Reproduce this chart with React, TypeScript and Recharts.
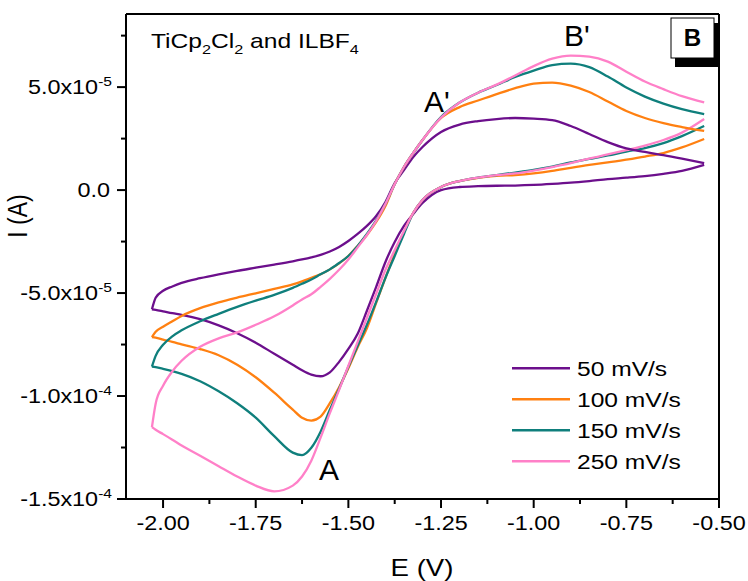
import React from 'react';
import { LineChart, Line, XAxis, YAxis, ReferenceLine, Legend, Customized } from 'recharts';

// potential grid (V), shared by every branch
const potential = [
  -2.03, -2.02, -2.0, -1.975, -1.95, -1.9, -1.85, -1.8, -1.75, -1.7,
  -1.65, -1.625, -1.6, -1.575, -1.55, -1.525, -1.5, -1.475, -1.45, -1.425,
  -1.4, -1.375, -1.35, -1.325, -1.3, -1.25, -1.2, -1.15, -1.1, -1.05,
  -1.0, -0.95, -0.9, -0.85, -0.8, -0.75, -0.7, -0.65, -0.6, -0.54,
];

// currents in units of 1e-5 A; cathodic = forward (lower) branch, anodic = return (upper) branch
const cathodic50 = [
  -5.79, -5.82, -5.89, -5.98, -6.06, -6.27, -6.57, -6.95, -7.41, -7.95,
  -8.48, -8.75, -8.96, -9.04, -8.85, -8.34, -7.71, -6.98, -5.86, -4.7,
  -3.49, -2.52, -1.74, -1.16, -0.63, 0.0, 0.15, 0.19, 0.21, 0.22,
  0.25, 0.3, 0.36, 0.44, 0.53, 0.6, 0.68, 0.79, 0.93, 1.22,
];
const anodic50 = [
  -5.79, -5.23, -4.89, -4.68, -4.51, -4.28, -4.09, -3.92, -3.77, -3.62,
  -3.46, -3.37, -3.27, -3.15, -2.98, -2.76, -2.47, -2.13, -1.74, -1.26,
  -0.58, 0.34, 0.97, 1.6, 2.09, 2.82, 3.18, 3.35, 3.45, 3.5,
  3.47, 3.4, 3.11, 2.72, 2.33, 2.02, 1.85, 1.7, 1.53, 1.31,
];
const cathodic100 = [
  -7.14, -7.17, -7.26, -7.37, -7.49, -7.72, -8.02, -8.48, -9.09, -9.84,
  -10.66, -11.05, -11.19, -11.0, -10.35, -9.57, -8.65, -7.63, -6.71, -5.48,
  -4.26, -3.1, -2.03, -1.11, -0.48, 0.15, 0.44, 0.59, 0.69, 0.73,
  0.81, 0.93, 1.08, 1.22, 1.34, 1.48, 1.63, 1.8, 2.07, 2.48,
];
const anodic100 = [
  -7.14, -6.88, -6.64, -6.37, -6.11, -5.73, -5.45, -5.22, -5.01, -4.8,
  -4.58, -4.43, -4.26, -4.09, -3.85, -3.56, -3.2, -2.71, -2.18, -1.55,
  -0.77, 0.29, 1.12, 1.8, 2.43, 3.5, 4.03, 4.35, 4.66, 4.95,
  5.17, 5.22, 5.07, 4.76, 4.3, 3.84, 3.5, 3.25, 3.06, 2.87,
];
const cathodic150 = [
  -8.57, -8.6, -8.68, -8.79, -8.92, -9.28, -9.77, -10.35, -11.05, -11.95,
  -12.75, -12.87, -12.51, -11.73, -10.67, -9.65, -8.58, -7.56, -6.54, -5.43,
  -4.26, -3.2, -2.13, -1.11, -0.48, 0.15, 0.44, 0.61, 0.73, 0.85,
  0.98, 1.14, 1.34, 1.51, 1.68, 1.87, 2.04, 2.28, 2.62, 3.11,
];
const anodic150 = [
  -8.57, -8.05, -7.51, -7.1, -6.81, -6.37, -6.01, -5.67, -5.37, -5.09,
  -4.75, -4.55, -4.34, -4.09, -3.85, -3.54, -3.2, -2.71, -2.13, -1.47,
  -0.67, 0.29, 1.12, 1.8, 2.43, 3.55, 4.25, 4.73, 5.1, 5.49,
  5.8, 6.07, 6.14, 5.97, 5.51, 4.98, 4.54, 4.2, 3.93, 3.69,
];
const cathodic250 = [
  -11.51, -11.64, -11.85, -12.12, -12.4, -12.9, -13.41, -13.91, -14.35, -14.63,
  -14.35, -13.91, -13.14, -12.02, -10.83, -9.7, -8.53, -7.37, -6.2, -5.04,
  -3.87, -2.91, -1.99, -1.11, -0.48, 0.15, 0.44, 0.61, 0.73, 0.81,
  0.95, 1.12, 1.31, 1.53, 1.73, 1.94, 2.16, 2.43, 2.79, 3.45,
];
const anodic250 = [
  -11.51, -10.37, -9.5, -8.8, -8.29, -7.61, -7.2, -6.91, -6.54, -6.13,
  -5.6, -5.31, -5.06, -4.7, -4.31, -3.87, -3.37, -2.78, -2.18, -1.5,
  -0.67, 0.29, 1.12, 1.8, 2.43, 3.52, 4.25, 4.73, 5.12, 5.56,
  6.02, 6.38, 6.53, 6.48, 6.24, 5.75, 5.27, 4.9, 4.56, 4.26,
];

const scanRates = ['50 mV/s', '100 mV/s', '150 mV/s', '250 mV/s'];
const colors = ['#6c0f8c', '#ff8011', '#0f7f7c', '#ff80c8'];
const cathodic = [cathodic50, cathodic100, cathodic150, cathodic250];
const anodic = [anodic50, anodic100, anodic150, anodic250];

const xMajorTicks = [-2.0, -1.75, -1.5, -1.25, -1.0, -0.75, -0.5];
const xMinorTicks = [-1.875, -1.625, -1.375, -1.125, -0.875, -0.625];
const yMajorTicks = [-1.5e-4, -1.0e-4, -5.0e-5, 0, 5.0e-5];
const yMinorTicks = [-1.25e-4, -7.5e-5, -2.5e-5, 2.5e-5, 7.5e-5];

const X_MIN = -2.1;
const X_MAX = -0.5;
const Y_MIN = -1.5e-4;
const Y_MAX = 8.55e-5;

const FONT = '"Liberation Sans", Arial, Helvetica, sans-serif';
const SX = 1.2; // the source picture is stretched horizontally

const toSeries = (vals: number[]) => potential.map((e, k) => ({ e, i: vals[k] * 1e-5 }));

function SText({ x, y, size, anchor = 'start', weight = 'normal', sx = SX, children }: any) {
  return (
    <text
      transform={`translate(${x},${y}) scale(${sx},1)`}
      textAnchor={anchor}
      fontSize={size}
      fontWeight={weight}
      fontFamily={FONT}
      fill="#000"
    >
      {children}
    </text>
  );
}

const isMajor = (v: number, step: number) => Math.abs(v / step - Math.round(v / step)) < 1e-6;

function XTick(props: any) {
  const { x, y, payload } = props;
  const major = isMajor(payload.value, 0.25);
  return (
    <g>
      <line x1={x} x2={x} y1={y} y2={y + (major ? 9 : 5)} stroke="#000" strokeWidth={2} />
      {major && (
        <SText x={x} y={y + 30.5} size={19.5} anchor="middle">
          {payload.value.toFixed(2)}
        </SText>
      )}
    </g>
  );
}

function YTick(props: any) {
  const { x, y, payload } = props;
  const v = payload.value;
  const major = isMajor(v, 5e-5);
  let label: any = null;
  if (major) {
    if (v === 0) {
      label = (
        <SText x={x - 16} y={y + 7} size={19.5} anchor="end">
          0.0
        </SText>
      );
    } else {
      const exp = Math.floor(Math.log10(Math.abs(v)) + 1e-9);
      const mant = (v / Math.pow(10, exp)).toFixed(1);
      label = (
        <SText x={x - 14} y={y + 7} size={19.5} anchor="end">
          {mant}x10
          <tspan fontSize={13} dy={-8.5}>
            {exp}
          </tspan>
        </SText>
      );
    }
  }
  return (
    <g>
      <line x1={x} x2={x - (major ? 9 : 5)} y1={y} y2={y} stroke="#000" strokeWidth={2} />
      {label}
    </g>
  );
}

function Annotations() {
  return (
    <g>
      <SText x={151} y={48} size={20.5}>
        TiCp
        <tspan fontSize={13.5} dy={6}>2</tspan>
        <tspan dy={-6}>Cl</tspan>
        <tspan fontSize={13.5} dy={6}>2</tspan>
        <tspan dy={-6}> and ILBF</tspan>
        <tspan fontSize={13.5} dy={6}>4</tspan>
      </SText>
      <SText x={424} y={112} size={30} sx={1}>A'</SText>
      <SText x={564} y={46} size={30} sx={1}>B'</SText>
      <SText x={319} y={480} size={30} sx={1}>A</SText>
      <rect x={675} y={23} width={44} height={44} fill="#000" />
      <rect x={671} y={18} width={43} height={40} fill="#fff" stroke="#000" strokeWidth={1} />
      <SText x={692.5} y={46} size={23} weight="bold" anchor="middle" sx={1.05}>B</SText>
      <SText x={422} y={576} size={23} anchor="middle">E (V)</SText>
      <text
        transform="translate(27,216) rotate(-90) scale(1,1.2)"
        textAnchor="middle"
        fontSize={23}
        fontFamily={FONT}
        fill="#000"
      >
        I (A)
      </text>
    </g>
  );
}

function LegendBox(props: any) {
  const items = scanRates
    .map((name) => (props.payload || []).find((p: any) => p.value === name))
    .filter(Boolean);
  return (
    <svg width={200} height={125}>
      {items.map((p: any, k: number) => {
        const cy = 13.3 + k * 31;
        return (
          <g key={p.value}>
            <line x1={7} x2={65} y1={cy} y2={cy} stroke={p.color} strokeWidth={2.5} />
            <SText x={72} y={cy + 7.4} size={20.5}>
              {p.value}
            </SText>
          </g>
        );
      })}
    </svg>
  );
}

export default function App() {
  return (
    <div style={{ position: 'absolute', left: 0, top: 0, width: 748, height: 581, background: '#fff' }}>
      <LineChart width={748} height={581} margin={{ top: 14, right: 29, left: 0, bottom: 0 }}>
        <XAxis
          type="number"
          dataKey="e"
          domain={[X_MIN, X_MAX]}
          allowDataOverflow
          ticks={[...xMajorTicks, ...xMinorTicks].sort((a, b) => a - b)}
          interval={0}
          tick={<XTick />}
          tickLine={false}
          tickSize={0}
          tickMargin={0}
          height={82}
          axisLine={{ stroke: '#000', strokeWidth: 2 }}
        />
        <YAxis
          type="number"
          domain={[Y_MIN, Y_MAX]}
          allowDataOverflow
          ticks={[...yMajorTicks, ...yMinorTicks].sort((a, b) => a - b)}
          interval={0}
          tick={<YTick />}
          tickLine={false}
          tickSize={0}
          tickMargin={0}
          width={126}
          axisLine={{ stroke: '#000', strokeWidth: 2 }}
        />
        <ReferenceLine y={Y_MAX} stroke="#000" strokeWidth={2} />
        <ReferenceLine x={X_MAX} stroke="#000" strokeWidth={2} />
        {scanRates.map((name, k) => (
          <Line
            key={'c' + name}
            data={toSeries(cathodic[k])}
            dataKey="i"
            name={name}
            type="monotone"
            stroke={colors[k]}
            strokeWidth={2.3}
            dot={false}
            activeDot={false}
            isAnimationActive={false}
          />
        ))}
        {scanRates.map((name, k) => (
          <Line
            key={'a' + name}
            data={toSeries(anodic[k])}
            dataKey="i"
            name={name + ' (return)'}
            legendType="none"
            type="monotone"
            stroke={colors[k]}
            strokeWidth={2.3}
            dot={false}
            activeDot={false}
            isAnimationActive={false}
          />
        ))}
        <Legend
          layout="vertical"
          align="center"
          verticalAlign="middle"
          content={<LegendBox />}
          wrapperStyle={{ position: 'absolute', left: 505, top: 355, width: 200, height: 125 }}
        />
        <Customized component={Annotations} />
      </LineChart>
    </div>
  );
}
